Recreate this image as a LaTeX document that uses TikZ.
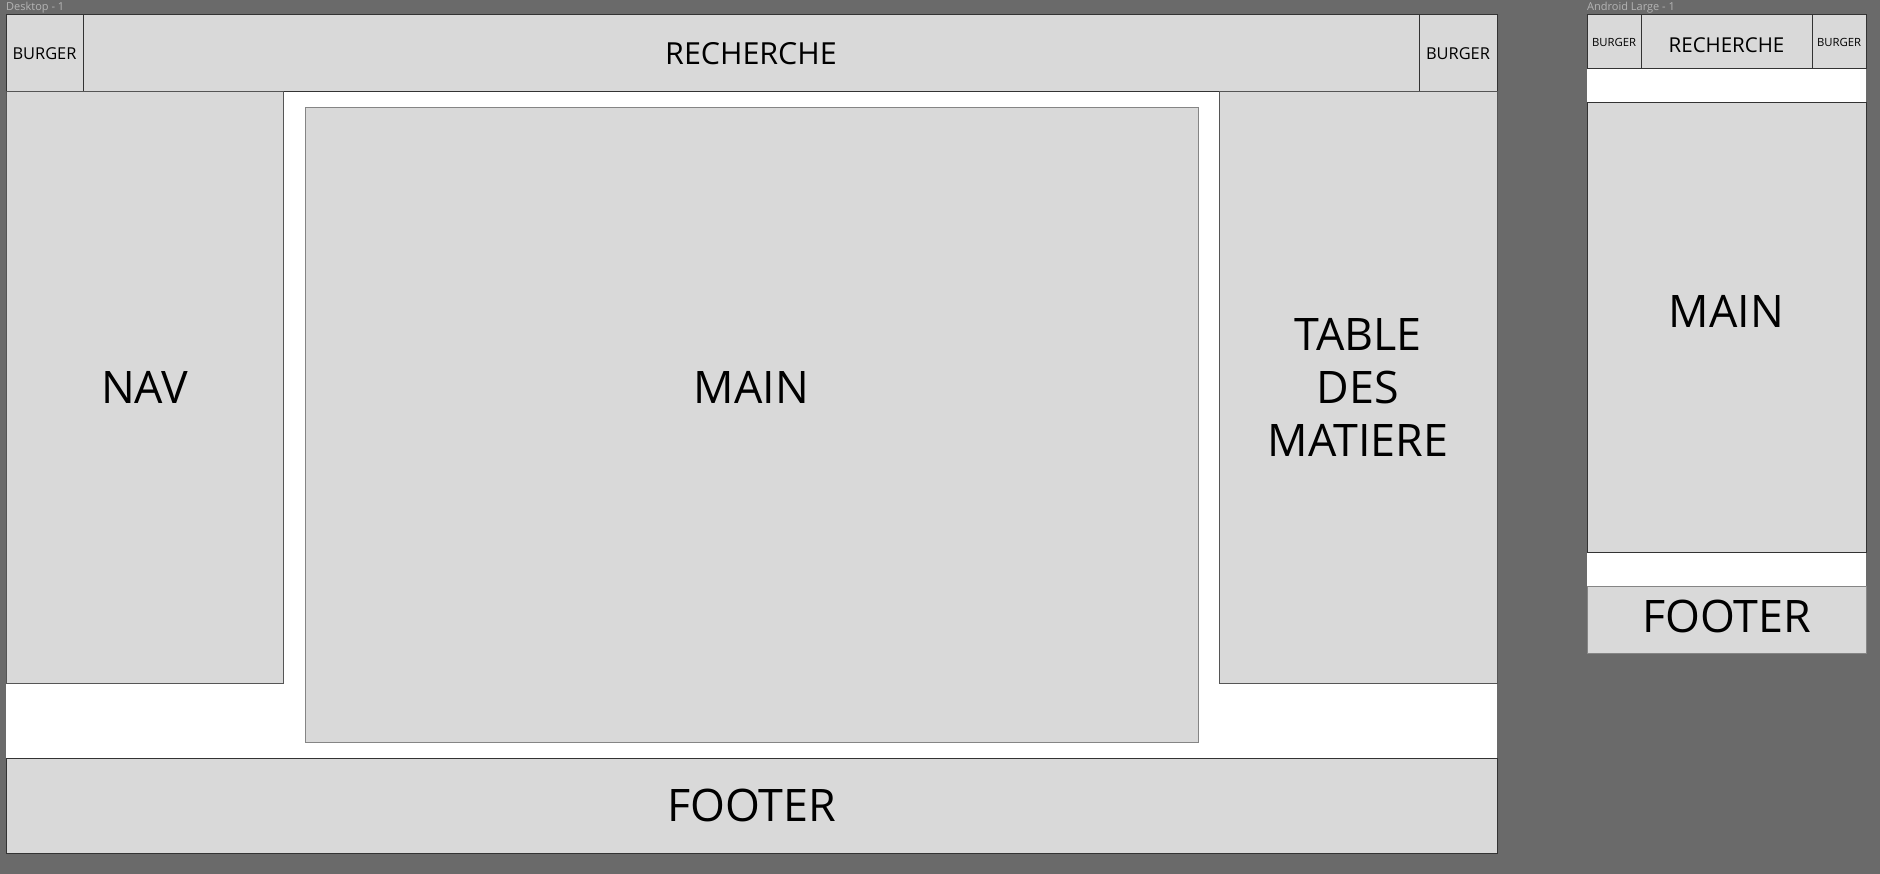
\documentclass[tikz,border=0pt]{standalone}
\usepackage{fontspec}
\setmainfont{Open Sans}
\definecolor{bg}{HTML}{6A6A6A}
\definecolor{boxfill}{HTML}{D9D9D9}
\definecolor{darkline}{HTML}{333333}
\definecolor{midline}{HTML}{555555}
\definecolor{lightline}{HTML}{858585}
\definecolor{framelabel}{HTML}{B4B4B4}
\tikzset{
  box/.style={draw=darkline, fill=boxfill, line width=1pt, inner sep=0pt, outer sep=0pt, anchor=north west},
  framebox/.style={fill=white, draw=none, inner sep=0pt, outer sep=0pt, anchor=north west},
  biglabel/.style={font=\fontsize{44.8}{53}\selectfont, inner sep=0pt, align=center, text=black},
  tag/.style={font=\fontsize{11}{13}\selectfont, text=framelabel, anchor=west, inner sep=0pt},
}
\begin{document}
\begin{tikzpicture}[x=1pt,y=-1pt]
\useasboundingbox (0,0) rectangle (1880,874);
\fill[bg] (0,0) rectangle (1880,874);

% ---------- Desktop ----------
\node[tag] (tagd) at (6,8) {Desktop - 1};
\node[framebox, minimum width=1491pt, minimum height=838pt] (deskframe) at (6,15) {};
\node[box, minimum width=77pt, minimum height=77pt] (burgl) at (6,15) {};
\node[box, minimum width=1336pt, minimum height=77pt] (rech) at (83,15) {};
\node[box, minimum width=78pt, minimum height=77pt] (burgr) at (1419,15) {};
\node[font=\fontsize{16.4}{18}\selectfont, inner sep=0pt] at (burgl.center) {BURGER};
\node[font=\fontsize{30.4}{34}\selectfont, inner sep=0pt] at (rech.center) {RECHERCHE};
\node[font=\fontsize{16.4}{18}\selectfont, inner sep=0pt] at (burgr.center) {BURGER};

\node[box, draw=midline, minimum width=277pt, minimum height=591pt] (nav) at (6,92) {};
\node[biglabel] at (nav.center) {NAV};

\node[box, draw=lightline, minimum width=893pt, minimum height=634pt] (main) at (305,108) {};
\node[biglabel] at (main.center |- nav.center) {MAIN};

\node[box, draw=midline, minimum width=278pt, minimum height=591pt] (toc) at (1219,92) {};
\node[biglabel] at (toc.center) {TABLE\\DES\\MATIERE};

\node[box, minimum width=1491pt, minimum height=95pt] (foot) at (6,758) {};
\node[biglabel] at (foot.center) {FOOTER};

% ---------- Android ----------
\node[tag] (taga) at (1587,8) {Android Large - 1};
\node[framebox, minimum width=279pt, minimum height=638pt] (mobframe) at (1587,15) {};
\node[box, minimum width=54pt, minimum height=54pt] (mburgl) at (1587,15) {};
\node[box, minimum width=171pt, minimum height=54pt] (mrech) at (1641,15) {};
\node[box, minimum width=54pt, minimum height=54pt] (mburgr) at (1812,15) {};
\node[font=\fontsize{11.3}{13}\selectfont, inner sep=0pt] at (mburgl.center) {BURGER};
\node[font=\fontsize{20.5}{24}\selectfont, inner sep=0pt] at ([yshift=-3pt]mrech.center) {RECHERCHE};
\node[font=\fontsize{11.3}{13}\selectfont, inner sep=0pt] at (mburgr.center) {BURGER};

\node[box, minimum width=279pt, minimum height=449pt] (mmain) at (1587,103) {};
\node[biglabel] at ([yshift=16.5pt]mmain.center) {MAIN};

\node[box, draw=lightline, minimum width=279pt, minimum height=67pt] (mfoot) at (1587,586) {};
\node[biglabel] at ([yshift=3.5pt]mfoot.center) {FOOTER};
\end{tikzpicture}
\end{document}
